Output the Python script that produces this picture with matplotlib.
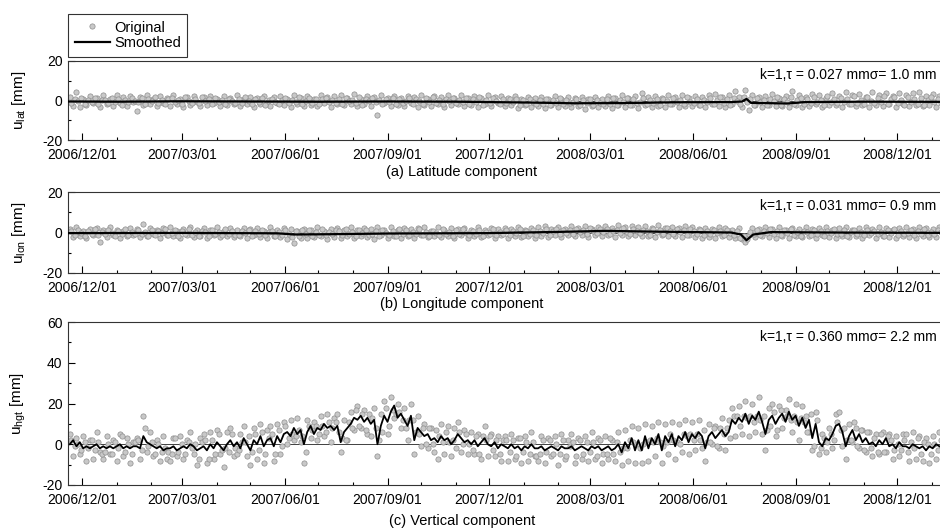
import numpy as np
import pandas as pd
import matplotlib
matplotlib.use("Agg")
import matplotlib.pyplot as plt
import matplotlib.dates as mdates

plt.rcParams['font.family'] = ['Liberation Sans', 'DejaVu Sans']
plt.rcParams['axes.unicode_minus'] = False
plt.rcParams['mathtext.fontset'] = 'custom'
plt.rcParams['mathtext.rm'] = 'Liberation Sans'

# ---- data (mm) ----
# two interleaved sets of original samples, each every 3 days
start1 = "2006-11-20"
start2 = "2006-11-21 12:00"

lat_orig = [
    1.8, -2.6, 4.5, -3.1, 0.9, -2.2, 2.4, -1.5, 1.2, -3.4,
    2.6, -2.0, 0.7, -3.0, 2.9, -1.4, 1.6, -2.7, 2.2, -0.9,
    -5.5, 1.9, -2.4, 2.6, -1.8, 0.8, -2.9, 2.1, -1.2, 1.5,
    -2.6, 2.7, -1.6, 0.6, -3.2, 1.9, -2.1, 2.5, -0.8, -2.8,
    1.7, -2.3, 2.4, -1.1, 1.0, -3.0, 2.2, -2.5, 1.4, -1.7,
    2.8, -2.9, 0.9, -1.9, 2.0, -3.3, 1.5, -2.0, 2.5, -1.2,
    -2.7, 1.8, -1.5, 2.3, -2.4, 0.8, -3.1, 2.6, -1.6, 1.2,
    -3.0, 2.4, -2.2, 1.0, -2.8, 2.9, -1.4, 1.6, -3.3, 2.1,
    -1.7, 2.7, -2.5, 1.3, -2.0, 3.1, -2.9, 0.9, -1.8, 2.4,
    -2.6, 1.7, -7.5, 2.6, -1.5, 1.1, -3.0, 2.2, -2.3, 1.5,
    -2.8, 2.5, -1.3, 1.9, -3.2, 2.8, -2.1, 0.8, -2.6, 2.3,
    -1.6, 1.6, -3.1, 2.7, -2.4, 1.2, -1.9, 2.9, -2.8, 1.4,
    -2.2, 2.5, -3.4, 1.1, -2.0, 3.0, -2.7, 1.8, -1.4, 2.2,
    -3.0, 1.5, -2.5, 2.4, -3.6, 0.7, -2.2, 2.0, -3.1, 1.3,
    -2.6, 1.9, -3.8, 0.9, -2.4, 2.2, -3.3, 1.0, -2.9, 1.7,
    -3.5, 1.2, -2.8, 2.0, -4.1, 0.6, -2.6, 1.6, -3.4, 0.9,
    -2.9, 2.1, -4.0, 1.3, -2.5, 2.6, -3.3, 1.5, -2.2, 2.3,
    -3.6, 4.0, -2.4, 1.8, -3.1, 2.5, -2.7, 1.1, -3.5, 2.7,
    -1.9, 2.0, -3.3, 3.0, -2.6, 1.4, -3.0, 2.4, -2.1, 1.8,
    -3.2, 2.8, -1.8, 3.5, -2.9, 1.9, -3.4, 2.6, -2.0, 4.6,
    2.0, -3.5, 5.5, -4.8, 2.9, -2.4, 1.6, -3.3, 2.5, -2.1,
    3.4, -3.0, 1.5, -2.6, 2.2, -3.5, 5.0, -2.2, 2.6, -3.1,
    1.9, -2.7, 3.5, -2.0, 2.7, -3.4, 1.4, -2.5, 3.9, -2.2,
    2.3, -3.1, 4.2, -1.7, 2.9, -2.8, 3.3, -2.4, 1.8, -3.2,
    4.5, -2.3, 2.6, -3.0, 3.8, -2.0, 2.1, -3.5, 4.0, -1.9,
    2.8, -2.7, 3.6, -2.2, 4.4, -3.0, 2.3, -2.5, 3.1, -3.3,
    2.5, -5.2, 3.8, -2.9, 2.4,
]
lat_orig2 = [
    -1.2, 0.8, -0.3, 1.4, -1.9, 0.2, -0.8, 1.1, -1.6, 0.5,
    0.3, -1.5, 1.2, -0.6, 0.9, -2.1, 0.4, -1.0, 1.5, -0.2,
    -0.9, 1.3, -1.7, 0.6, -0.4, 1.8, -1.3, 0.1, -2.0, 0.9,
    1.1, -0.7, 0.5, -1.8, 1.6, -0.3, -1.1, 0.7, -1.5, 1.9,
    -0.5, 0.9, -2.0, 1.3, -0.9, 0.4, -1.6, 1.0, -0.2, -1.3,
    0.6, -1.2, 1.7, -0.4, -1.8, 0.8, -0.7, 1.4, -2.1, 0.3,
    1.0, -0.6, -1.9, 0.5, 1.2, -1.4, 0.2, -0.9, 1.6, -1.7,
    -0.3, 1.5, -1.1, 0.7, -2.0, 0.9, 1.3, -0.8, 0.4, -1.5,
    0.8, -1.9, 1.1, -0.5, 0.3, -1.3, 1.8, -2.2, 0.6, -0.4,
    1.4, -0.9, 0.2, -1.7, 1.0, -0.6, 1.5, -2.0, 0.7, -1.1,
    -0.4, 1.2, -1.6, 0.9, -0.2, -1.9, 1.3, -0.7, 1.7, -1.2,
    0.5, -2.0, 0.8, -0.5, 1.4, -1.5, 0.1, -1.0, 1.1, -1.8,
    0.9, -0.8, 1.6, -2.1, 0.4, -1.1, 1.2, -0.3, -1.7, 0.7,
    -1.4, 0.6, -0.9, 1.0, -2.2, 0.3, -1.6, 0.8, -0.6, -2.0,
    0.4, -1.7, 0.9, -2.3, 0.2, -1.2, 1.1, -2.0, 0.5, -1.5,
    -0.9, 0.7, -2.2, 0.1, -1.4, 1.0, -2.4, 0.3, -1.1, -1.9,
    0.6, -1.6, 1.2, -2.1, 0.3, -0.8, 1.4, -2.3, 0.8, -1.3,
    -0.7, 1.5, -1.9, 0.4, -1.2, 1.0, -2.2, 0.6, -0.5, -1.8,
    1.2, -1.0, 0.3, -2.0, 1.6, -0.6, -1.5, 0.9, -2.2, 0.5,
    -0.8, 1.1, -1.6, 0.2, 1.9, -1.3, 0.6, -2.1, 1.3, -0.4,
    -1.9, 1.8, -0.6, 0.9, -2.3, 1.2, -0.9, 0.4, -2.1, 1.0,
    -0.5, 1.6, -2.4, 0.7, -1.0, 2.0, -1.7, 0.3, 1.4, -2.0,
    0.8, -1.3, 1.9, -0.7, 0.4, -2.1, 2.2, -0.9, 1.0, -1.5,
    1.5, -0.6, 0.9, -2.0, 2.3, -1.1, 0.5, -1.8, 1.7, -0.3,
    -1.4, 1.2, -0.8, 2.1, -1.9, 0.6, 1.6, -1.2, 0.3, -2.2,
    1.9, -0.9, 0.7, -1.6, 1.3, -2.3, 0.4, 1.8, -1.0, 0.6,
    -1.5, 1.1, -0.7, 1.6, -1.2,
]
lat_smooth_dates = ["2006-11-18", "2007-01-01", "2007-03-01", "2007-05-01", "2007-07-01",
                    "2007-09-01", "2007-11-01", "2008-01-01", "2008-02-15", "2008-04-01",
                    "2008-05-15", "2008-07-05", "2008-07-15", "2008-07-19", "2008-07-23",
                    "2008-08-25", "2008-09-10", "2008-11-01", "2009-01-25"]
lat_smooth = [-0.5, -0.6, -0.4, -0.5, -0.6, -0.5, -0.6, -1.0, -1.4, -1.3,
              -0.9, -0.8, -0.5, 0.8, -1.2, -1.5, -0.8, -0.6, -0.7]

lon_orig = [
    1.9, -2.1, 2.6, -1.5, 0.8, -2.7, 1.6, -1.2, 2.3, -4.8,
    1.4, -2.3, 2.8, -1.0, 1.2, -2.5, 0.7, -1.8, 2.4, -1.3,
    1.7, -2.4, 4.2, -1.6, 2.0, -0.9, 1.3, -2.6, 2.1, -1.4,
    2.5, -1.9, 0.9, -2.6, 1.8, -1.1, 2.7, -2.0, 1.1, -1.6,
    2.2, -2.5, 1.4, -1.3, 2.9, -2.2, 0.8, -1.7, 2.0, -2.4,
    1.3, -1.8, 2.4, -2.7, 1.6, -1.2, 2.2, -2.1, 0.9, -2.9,
    2.7, -1.5, 1.2, -2.4, 2.0, -3.0, 1.5, -5.2, 0.8, -2.6,
    1.9, -2.9, 1.1, -2.2, 2.5, -1.7, 0.6, -3.1, 1.8, -2.0,
    2.4, -2.6, 1.3, -1.5, 2.9, -2.8, 1.0, -1.9, 2.2, -2.3,
    1.6, -3.2, 2.6, -1.4, 1.1, -2.5, 2.8, -1.8, 1.4, -2.7,
    2.3, -1.6, 1.5, -2.9, 2.0, -1.1, 2.6, -2.4, 0.9, -1.7,
    2.8, -2.2, 1.2, -1.5, 2.4, -2.8, 1.7, -1.3, 2.1, -2.5,
    1.4, -1.9, 2.7, -2.4, 1.0, -1.4, 2.3, -2.7, 1.8, -1.2,
    2.2, -2.6, 1.6, -1.8, 2.9, -2.2, 1.3, -1.6, 2.4, -2.9,
    2.6, -1.5, 3.0, -2.1, 1.7, -1.2, 2.8, -2.3, 1.9, -1.4,
    3.2, -1.8, 2.4, -1.1, 3.4, -2.0, 1.9, -1.3, 2.9, -1.7,
    3.0, -1.4, 2.2, -2.1, 3.6, -1.2, 2.5, -1.9, 3.1, -1.0,
    2.6, -1.6, 3.3, -1.8, 2.0, -2.3, 3.5, -1.1, 2.4, -1.9,
    2.9, -1.7, 2.1, -2.4, 3.2, -1.3, 2.5, -2.0, 1.8, -2.6,
    2.4, -2.1, 1.6, -2.8, 2.7, -1.5, 2.2, -2.3, 1.4, -2.7,
    2.0, -3.3, -4.6, -1.2, 2.3, -2.4, 1.5, -1.8, 2.6, -2.2,
    1.8, -2.5, 2.7, -1.7, 1.3, -2.6, 2.4, -1.5, 1.9, -2.3,
    2.8, -1.9, 1.5, -2.8, 2.2, -1.4, 2.9, -2.0, 1.2, -2.5,
    2.3, -1.6, 2.6, -2.4, 1.4, -1.8, 2.1, -2.9, 2.7, -1.3,
    1.7, -2.6, 2.9, -1.5, 2.0, -2.2, 1.3, -2.7, 2.4, -1.6,
    2.5, -2.0, 1.6, -2.5, 2.8, -1.7, 2.2, -2.4, 1.5, -2.1,
    2.6, -1.8, 1.4, -2.6, 2.0,
]
lon_orig2 = [
    0.6, -1.3, 1.1, -0.4, -1.8, 0.9, -0.7, 1.5, -1.1, 0.2,
    -0.9, 1.4, -0.2, -1.6, 0.8, -0.5, 1.7, -1.2, 0.4, -0.8,
    1.2, -0.6, 0.3, -1.7, 1.0, -1.1, 0.5, -0.3, 1.6, -1.4,
    -0.4, 1.1, -1.5, 0.7, -0.8, 1.8, -1.0, 0.2, -1.9, 0.9,
    0.4, -1.6, 1.3, -0.6, 0.1, -1.3, 1.6, -0.9, 0.6, -1.1,
    -1.2, 0.5, -0.4, 1.2, -1.7, 0.8, -0.6, 1.4, -1.3, 0.1,
    0.9, -1.8, 0.3, -1.2, 1.1, -0.5, -2.0, 0.6, -1.5, 1.0,
    -0.7, 1.3, -1.6, 0.4, -1.0, 1.7, -1.4, 0.2, -0.8, 1.2,
    0.5, -1.1, 1.6, -0.9, 0.3, -1.7, 1.0, -0.4, 1.4, -1.3,
    -0.8, 0.7, -1.5, 1.3, -0.2, -1.2, 0.9, -1.6, 1.5, -0.5,
    1.0, -1.4, 0.2, -0.7, 1.8, -1.1, 0.4, -1.8, 0.8, -0.3,
    -1.0, 1.5, -0.6, 0.3, -1.5, 1.1, -0.9, 1.7, -0.4, -1.2,
    0.7, -0.5, 1.2, -1.6, 0.4, -0.9, 1.5, -1.3, 0.2, -0.7,
    1.3, -1.1, 0.6, -0.3, 1.7, -1.5, 0.8, -0.6, 1.1, -1.4,
    0.9, -0.4, 1.6, -1.0, 0.5, 1.9, -0.7, 1.2, -0.2, 1.4,
    -0.5, 1.7, 0.3, 1.1, -0.8, 2.0, 0.6, -0.3, 1.5, 0.2,
    1.8, -0.6, 0.9, 1.4, -0.2, 2.1, 0.4, -0.9, 1.6, 0.5,
    -0.4, 1.3, 0.7, -1.0, 1.9, 0.1, 1.2, -0.7, 2.0, 0.6,
    -0.8, 1.5, 0.2, 1.0, -1.1, 1.7, 0.5, -0.6, 1.2, -1.2,
    0.8, -0.9, 1.4, -0.3, 0.6, -1.4, 1.1, -0.1, -1.0, 0.9,
    -2.8, -1.9, -3.2, 0.3, -0.8, 1.2, -1.3, 0.7, -0.4, 1.5,
    -0.9, 0.6, -1.4, 1.1, -0.2, 1.6, -1.0, 0.4, -1.6, 0.9,
    0.2, -1.2, 1.3, -0.5, 0.8, -1.7, 0.5, -0.3, 1.7, -0.9,
    -0.6, 1.0, -1.5, 0.4, 1.4, -0.8, 0.3, -1.3, 1.1, -0.2,
    0.9, -0.7, 0.2, -1.6, 1.2, -0.3, 1.6, -1.1, 0.5, -0.9,
    -0.4, 1.3, -1.2, 0.7, -0.5, 1.5, -1.4, 0.3, -0.8, 1.0,
    0.4, -1.0, 1.2, -0.6, 0.8,
]
lon_smooth_dates = ["2006-11-18", "2007-03-01", "2007-05-25", "2007-06-10", "2007-07-20",
                    "2007-09-01", "2007-12-01", "2008-02-01", "2008-03-15", "2008-05-01",
                    "2008-07-05", "2008-07-14", "2008-07-19", "2008-07-25", "2008-08-10",
                    "2008-10-01", "2009-01-25"]
lon_smooth = [-0.3, -0.2, -0.4, -1.0, -0.8, -0.5, -0.3, 0.3, 0.8, 0.4,
              0.0, -1.0, -3.8, -1.0, 0.2, 0.0, -0.2]

hgt_orig = [
    5, -6, 3, -5, 4, -8, 2, -7, 6, -4,
    -7, 4, -5, 2, -8, 5, -6, 3, -9, 1,
    3, -7, 14, -4, 6, -6, 2, -8, 4, -7,
    -8, 3, -6, 4, -7, 2, 6, -5, -10, 3,
    5, -9, 6, -7, 7, -5, -11, 6, 8, -6,
    -5, 5, 9, -6, -10, 8, -7, 10, -9, 7,
    9, -8, 10, -5, 11, 0, 12, 2, 13, 1,
    -9, 12, 3, 11, 2, 14, 4, 15, 1, 13,
    15, -4, 12, 2, 16, 7, 19, 8, 17, 5,
    4, 18, -6, 15, 21, 5, 23, 13, 20, 8,
    18, 2, 20, -5, 14, -1, 10, -2, 8, -4,
    -7, 10, -5, 9, -6, 8, 11, -4, 7, -5,
    6, -5, 5, -7, 9, -6, 5, -6, 4, -8,
    4, -8, 5, -7, 3, -9, 4, -8, 6, -6,
    -8, 4, -9, 3, -6, 4, -10, 5, -7, 2,
    5, -9, 3, -7, 4, -8, 6, -7, 3, -9,
    4, -7, 2, -8, 6, -10, 7, -8, 9, -9,
    8, -9, 10, -8, 9, -6, 11, -9, 10, -5,
    11, -7, 10, -4, 12, -5, 11, -3, 12, -2,
    -8, 10, 0, 9, -2, 13, -3, 12, 18, 4,
    19, 5, 21, 4, 20, 6, 23, 5, -3, 18,
    20, 4, 19, 8, 17, 22, 6, 20, 2, 19,
    14, 6, -3, 16, -5, 5, -4, 8, -2, 15,
    16, -1, -7, 10, 1, 8, -2, 7, -4, 6,
    -6, 5, -5, 6, -4, 5, -7, 4, -6, 5,
    5, -8, 6, -7, 4, -8, 3, -9, 4, -7,
    6, -8, 12, -7, 4,
]
hgt_orig2 = [
    2, -1, 0, -3, 1, -2, 2, -3, 1, -5,
    -4, 0, -5, 1, -2, 4, -4, 0, -5, 1,
    2, -3, 8, -1, 1, -5, 0, -4, -2, -4,
    -5, 3, -4, 0, -5, 1, -2, 0, -7, 1,
    2, -7, 2, -5, 5, -3, -2, -4, 5, -2,
    -3, 1, 1, 4, -4, 5, -3, 6, -5, 3,
    5, -5, 7, -1, 9, 3, 5, 4, 7, 4,
    -4, 9, 7, 9, 5, 9, 6, 11, 8, 11,
    6, 3, 2, 11, 8, 17, 9, 15, 7, 15,
    13, 8, 2, 6, 18, 9, 17, 15, 16, 12,
    8, 12, 12, 6, 5, 8, 0, 8, 0, 7,
    4, 1, 6, 1, 2, -2, 6, 0, 5, 0,
    -3, 4, -5, 4, 2, 4, -3, 2, -5, 2,
    2, -4, 2, -6, 3, -4, 1, -5, 1, -6,
    -5, 2, -4, 2, -5, 0, -5, 2, -6, -1,
    1, -6, 2, -5, 1, -4, 1, -6, 2, -5,
    -5, 3, -5, 1, -4, -2, -2, 2, 1, 0,
    -2, 0, 1, 2, 1, 3, 1, -1, 1, 5,
    2, 1, 0, 5, 4, 5, 2, 5, 2, 7,
    1, 1, 8, -1, 8, 5, 8, 3, 14, 14,
    9, 14, 13, 14, 11, 14, 12, 14, 7, 9,
    16, 7, 17, 13, 14, 12, 14, 11, 13, 11,
    6, 15, -1, 12, -2, 3, 1, 5, 2, 11,
    7, 8, 2, 2, 11, -1, 7, -3, 6, -2,
    3, -4, 5, -4, 4, 2, -3, 0, -3, 2,
    -4, 1, -2, 3, -5, 1, 0, -5, 0, -3,
    2, -5, 3, -4, 1,
]
hgt_smooth = [
    0, 2, -1, 1, -2, -1, -2, -1, 0, -2,
    -1, -2, -1, -2, -1, 0, -2, -1, -2, -1,
    -1, -2, 4, 1, 0, -1, -2, -1, -3, -2,
    -2, -1, -3, -2, -1, -2, 0, -1, -3, -2,
    -1, -3, 0, -2, 1, -1, -3, 0, 2, -1,
    1, -2, 3, 0, -3, 2, 0, 4, -1, 2,
    3, -1, 4, 1, 5, 6, 4, 8, 5, 7,
    0, 6, 9, 5, 8, 7, 10, 8, 9, 7,
    9, 1, 6, 8, 10, 13, 12, 14, 11, 13,
    10, 12, 0, 9, 14, 11, 16, 19, 13, 15,
    12, 9, 14, 2, 8, 6, 4, 5, 2, 3,
    1, 4, 2, 3, 0, 2, 5, 3, 1, 2,
    0, 2, -1, 1, 3, 0, -1, 1, -2, 0,
    -1, -2, 0, -2, -1, -3, -1, -2, 0, -2,
    -2, -1, -3, -2, -1, -2, -3, -1, -2, -2,
    -1, -3, -2, -1, -2, -3, -1, -2, -1, -3,
    -2, -1, -3, -2, 0, -4, 1, -2, 3, -3,
    2, -3, 4, -2, 3, 0, 5, -3, 4, 1,
    5, -1, 4, 2, 6, 1, 5, 3, 6, 4,
    -2, 4, 6, 3, 5, 7, 4, 6, 12, 10,
    13, 11, 15, 10, 14, 12, 16, 11, 5, 12,
    14, 10, 13, 15, 11, 16, 12, 14, 9, 13,
    8, 12, 3, 10, 1, -1, 3, 2, 5, 9,
    10, 6, -1, 4, 7, 2, 5, 1, 3, 0,
    1, -1, 2, 0, 3, -1, 0, -2, 1, -1,
    -1, -2, 0, -1, -2, -1, -3, -1, -2, 0,
    -1, -2, 0, -1, -2,
]

notes = ["k=1,\u03c4 = 0.027 mm\u03c3= 1.0 mm",
         "k=1,\u03c4 = 0.031 mm\u03c3= 0.9 mm",
         "k=1,\u03c4 = 0.360 mm\u03c3= 2.2 mm"]
captions = ["(a) Latitude component", "(b) Longitude component", "(c) Vertical component"]
ylabels = [r"$\mathrm{u}_{\mathrm{lat}}$ [mm]", r"$\mathrm{u}_{\mathrm{lon}}$ [mm]",
           r"$\mathrm{u}_{\mathrm{hgt}}$ [mm]"]

# ---- figure ----
W, H = 940, 530
fig = plt.figure(figsize=(W / 100, H / 100), dpi=100)

def px_axes(left, top, right, bottom):
    return fig.add_axes([left / W, 1 - bottom / H, (right - left) / W, (bottom - top) / H])

axes = [px_axes(68, 61, 955, 140), px_axes(68, 192, 955, 273), px_axes(68, 322, 955, 485)]

def dates(first, n):
    return pd.date_range(first, periods=n, freq="3D")

series = [
    (lat_orig, lat_orig2, pd.to_datetime(lat_smooth_dates), lat_smooth, (-20, 20)),
    (lon_orig, lon_orig2, pd.to_datetime(lon_smooth_dates), lon_smooth, (-20, 20)),
    (hgt_orig, hgt_orig2, dates(start1, len(hgt_smooth)), hgt_smooth, (-20, 60)),
]

xlo = pd.Timestamp("2006-11-18 10:00")
xhi = pd.Timestamp("2009-01-22")
mstyle = dict(ls="none", marker="o", ms=3.8, mfc="#c8c8c8", mec="#8e8e8e", mew=0.5, zorder=2)

for i, ax in enumerate(axes):
    o1, o2, sd, sv, ylim = series[i]
    ax.axhline(0, color="0.25", lw=0.7, zorder=1)
    ax.plot(dates(start1, len(o1)), o1, label="Original", **mstyle)
    ax.plot(dates(start2, len(o2)), o2, **mstyle)
    ax.plot(sd, sv, color="black", lw=1.3 if i == 2 else 1.6, zorder=3, label="Smoothed")
    ax.set_xlim(xlo, xhi)
    ax.set_ylim(*ylim)
    ax.set_yticks(np.arange(ylim[0], ylim[1] + 1, 20))
    ax.set_yticks(np.arange(ylim[0], ylim[1] + 1, 10), minor=True)
    ax.xaxis.set_major_locator(mdates.MonthLocator(bymonth=[3, 6, 9, 12]))
    ax.xaxis.set_minor_locator(mdates.MonthLocator())
    ax.xaxis.set_major_formatter(mdates.DateFormatter("%Y/%m/%d"))
    ax.tick_params(which="both", direction="in", labelsize=10, width=0.8)
    ax.tick_params(which="major", length=5)
    ax.tick_params(axis="x", which="major", pad=5.5)
    ax.tick_params(axis="y", which="major", pad=4)
    ax.tick_params(which="minor", length=2.5)
    for s in ax.spines.values():
        s.set_linewidth(0.8)
        s.set_color("0.2")
    ax.set_ylabel(ylabels[i], fontsize=11)
    ax.yaxis.set_label_coords(-0.045, 0.5)
    fig.text(760 / W, 1 - (75 + [0, 131, 262][i]) / H, notes[i], fontsize=10,
             ha="left", va="center")

fig.text(462 / W, 1 - 172 / H, captions[0], fontsize=10.5, ha="center", va="center")
fig.text(462 / W, 1 - 304 / H, captions[1], fontsize=10.5, ha="center", va="center")
fig.text(462 / W, 1 - 521 / H, captions[2], fontsize=10.5, ha="center", va="center")

h, l = axes[0].get_legend_handles_labels()
leg = fig.legend(h, l, loc="upper left", bbox_to_anchor=(68 / W, 1 - 14 / H),
                 fontsize=10.5, frameon=True, fancybox=False, edgecolor="black",
                 handlelength=2.4, borderpad=0.45, labelspacing=0.1, handletextpad=0.3,
                 borderaxespad=0)
leg.get_frame().set_linewidth(0.8)

fig.savefig("out.png", dpi=100)
